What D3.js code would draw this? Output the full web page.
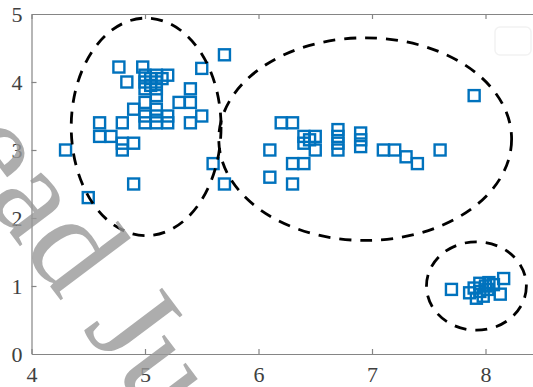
<!DOCTYPE html>
<html>
<head>
<meta charset="utf-8">
<script src="https://cdn.jsdelivr.net/npm/d3@7/dist/d3.min.js"></script>
<style>
  html, body { margin: 0; padding: 0; background: #fff; }
  svg { display: block; }
</style>
</head>
<body>
<svg id="chart" width="533" height="387"></svg>
<script>
// Three groups of observations (x, y)
const groupA = [
  [4.3,3.0],[4.5,2.3],[4.6,3.4],[4.6,3.2],[4.7,3.2],[4.8,3.4],[4.8,3.1],[4.8,3.0],
  [4.9,3.1],[4.9,2.5],[4.9,3.6],[4.77,4.22],[4.84,4.0],[4.98,4.22],[5.0,4.0],[5.0,4.1],
  [5.05,3.95],[5.1,4.0],[5.1,4.1],[5.05,4.05],[5.1,3.9],[5.0,3.9],[5.15,4.05],[5.2,4.1],
  [5.0,3.7],[5.0,3.5],[5.0,3.4],[5.1,3.8],[5.1,3.6],[5.1,3.5],[5.1,3.4],[5.2,3.5],
  [5.2,3.4],[5.3,3.7],[5.4,3.9],[5.4,3.7],[5.4,3.4],[5.5,3.5],[5.5,4.2],[5.7,4.4],
  [5.6,2.8],[5.7,2.5]
];
const groupB = [
  [6.1,3.0],[6.1,2.6],[6.2,3.4],[6.3,3.4],[6.4,3.2],[6.4,3.1],[6.5,3.2],[6.5,3.0],
  [6.45,3.15],[6.3,2.8],[6.4,2.8],[6.3,2.5],[6.7,3.3],[6.7,3.2],[6.7,3.1],[6.7,3.0],
  [6.9,3.25],[6.9,3.15],[6.9,3.05],[7.1,3.0],[7.2,3.0],[7.3,2.9],[7.4,2.8],[7.6,3.0],
  [7.9,3.8]
];
const groupC = [
  [7.7,0.95],[7.86,0.9],[7.92,0.82],[7.95,0.92],[7.95,1.04],[7.98,0.85],[8.0,1.0],
  [8.02,0.95],[8.07,1.02],[8.13,0.88],[8.16,1.11],[7.9,0.97],[8.03,1.05]
];
// Cluster boundaries: centre and semi-axes in data units
const clusterCx = [5.01, 6.94, 7.92];
const clusterCy = [3.34, 3.16, 1.00];
const clusterRx = [0.66, 1.29, 0.44];
const clusterRy = [1.60, 1.49, 0.65];

const xTicks = [4, 5, 6, 7, 8];
const yTicks = [0, 1, 2, 3, 4, 5];
const xDomain = [4, 8.5];
const yDomain = [0, 5];

const svg = d3.select("#chart");
const plotLeft = 31.5, plotTop = 14, plotBottom = 354, plotRight = 542.25;

const x = d3.scaleLinear().domain(xDomain).range([plotLeft, plotRight]);
const y = d3.scaleLinear().domain(yDomain).range([plotBottom, plotTop]);

const axisColor = "#858585";
const labelColor = "#404040";
const font = "'Liberation Serif', 'Times New Roman', serif";

// faint empty legend frame in the upper right
svg.append("rect")
  .attr("x", 495).attr("y", 27).attr("width", 36).attr("height", 28).attr("rx", 5)
  .attr("fill", "none").attr("stroke", "#f2f2f2").attr("stroke-width", 1.5);

// Box axes with inward ticks
const gx = svg.append("g").attr("transform", `translate(0,${plotBottom})`)
  .call(d3.axisBottom(x).tickValues(xTicks).tickFormat(d3.format("d"))
    .tickSizeInner(-5).tickSizeOuter(0).tickPadding(12));
const gxTop = svg.append("g").attr("transform", `translate(0,${plotTop})`)
  .call(d3.axisTop(x).tickValues(xTicks).tickFormat("")
    .tickSizeInner(-5).tickSizeOuter(0));
const gy = svg.append("g").attr("transform", `translate(${plotLeft},0)`)
  .call(d3.axisLeft(y).tickValues(yTicks).tickFormat(d3.format("d"))
    .tickSizeInner(-5).tickSizeOuter(0).tickPadding(9));

[gx, gxTop, gy].forEach(g => {
  g.select(".domain").attr("stroke", axisColor).attr("stroke-width", 1.2);
  g.selectAll(".tick line").attr("stroke", axisColor).attr("stroke-width", 1.2);
  g.selectAll(".tick text").attr("fill", labelColor)
    .style("font-family", font).style("font-size", "22px");
});
gy.selectAll(".tick").filter(d => d === 0 || d === 5).select("line").remove();

// Square markers
const markerColor = "#0072BD";
const side = 11;
const allPoints = groupA.concat(groupB, groupC);
svg.append("g").selectAll("rect").data(allPoints).join("rect")
  .attr("x", d => x(d[0]) - side / 2)
  .attr("y", d => y(d[1]) - side / 2)
  .attr("width", side).attr("height", side)
  .attr("fill", "none")
  .attr("stroke", markerColor)
  .attr("stroke-width", 2.4);

// Dashed cluster outlines
svg.append("g").selectAll("ellipse").data(d3.range(clusterCx.length)).join("ellipse")
  .attr("cx", i => x(clusterCx[i]))
  .attr("cy", i => y(clusterCy[i]))
  .attr("rx", i => x(clusterCx[i] + clusterRx[i]) - x(clusterCx[i]))
  .attr("ry", i => y(clusterCy[i]) - y(clusterCy[i] + clusterRy[i]))
  .attr("fill", "none")
  .attr("stroke", "#000")
  .attr("stroke-width", 2.8)
  .attr("stroke-dasharray", "12,9");

// Diagonal watermark
svg.append("text")
  .attr("transform", "translate(-51,152) rotate(53)")
  .attr("fill", "#999")
  .attr("fill-opacity", 0.8)
  .style("font-family", font)
  .style("font-size", "135px")
  .text("ead Jun");
</script>
</body>
</html>
